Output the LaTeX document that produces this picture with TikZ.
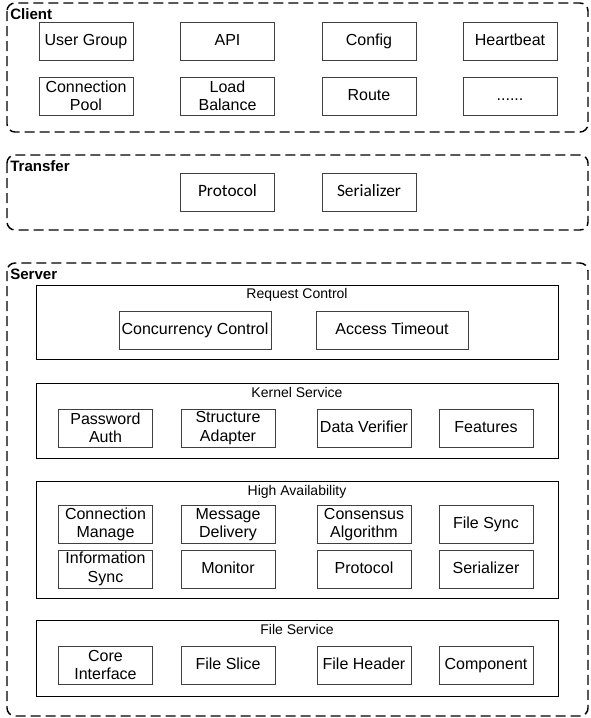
\documentclass[tikz,border=0pt]{standalone}
\usepackage{fontspec}
\setmainfont{Liberation Sans}
\newfontfamily\calibri{Carlito}
\usepackage{tikz}
\definecolor{boxgray}{RGB}{64,64,64}
\tikzset{
  layer/.style={draw=black, line width=1.1pt, dash pattern=on 7.5pt off 3.75pt, rounded corners=6pt},
  layertitle/.style={anchor=west, inner sep=0pt, text height=8.2pt, text depth=0pt,
    font=\fontsize{11.3}{13}\selectfont\bfseries},
  panel/.style={draw=black, line width=0.75pt},
  paneltitle/.style={inner sep=0pt, text height=7.6pt, text depth=2.2pt,
    font=\fontsize{10.5}{12.5}\selectfont},
  item/.style={draw=boxgray, line width=0.75pt, minimum width=70.5pt, minimum height=28.5pt,
    inner sep=0pt, align=center, font=\fontsize{12}{13.9}\selectfont},
  oneline/.style={item, text height=8.6pt, text depth=2.5pt},
  wideitem/.style={oneline, minimum width=114pt},
  titem/.style={oneline, text height=9pt, text depth=2.8pt, font=\calibri\fontsize{13}{15}\selectfont}
}
\begin{document}
\begin{tikzpicture}[x=0.75pt,y=0.75pt,yscale=-1,xscale=1]
\useasboundingbox (0,0) rectangle (590,718);

%Shape: Client layer
\draw[layer] (7,3) rectangle (588,132);
\node[layertitle] (client) at (10,14) {Client};
% Text Node
\node[oneline] (usergroup) at (86,41.5) {User Group};
\node[oneline] (api) at (227.5,41.5) {API};
\node[oneline] (config) at (369,41.5) {Config};
\node[oneline] (heartbeat) at (510,41.5) {Heartbeat};
\node[item] (connpool) at (86,96) {Connection\\Pool};
\node[item] (loadbal) at (227.5,96) {Load\\Balance};
\node[oneline] (route) at (369,96) {Route};
\node[oneline] (more) at (510,96) {......};

%Shape: Transfer layer
\draw[layer] (7,155) rectangle (588,230);
\node[layertitle] (transfer) at (10,166) {Transfer};
% Text Node
\node[titem] (tprotocol) at (227.5,192.5) {Protocol};
\node[titem] (tserializer) at (369,192.5) {Serializer};

%Shape: Server layer
\draw[layer] (7,263) rectangle (588,716);
\node[layertitle] (server) at (10,274) {Server};

%Shape: Request Control
\draw[panel] (36,285) rectangle (558,359);
\node[paneltitle] (reqctl) at (297,295) {Request Control};
\node[wideitem] (concurrency) at (195,330.5) {Concurrency Control};
\node[wideitem] (timeout) at (392,330.5) {Access Timeout};

%Shape: Kernel Service
\draw[panel] (36,383) rectangle (558,458);
\node[paneltitle] (kernel) at (297,394) {Kernel Service};
\node[item] (pwdauth) at (105.5,428) {Password\\Auth};
\node[item] (adapter) at (228,428) {Structure\\Adapter};
\node[oneline] (verifier) at (364,428) {Data Verifier};
\node[oneline] (features) at (486,428) {Features};

%Shape: High Availability
\draw[panel] (36,481) rectangle (558,598);
\node[paneltitle] (highavail) at (297,492) {High Availability};
\node[item] (connmanage) at (105.5,524.5) {Connection\\Manage};
\node[item] (msgdelivery) at (228,524.5) {Message\\Delivery};
\node[item] (consensus) at (364,524.5) {Consensus\\Algorithm};
\node[oneline] (filesync) at (486,524.5) {File Sync};
\node[item] (infosync) at (105.5,569) {Information\\Sync};
\node[oneline] (monitor) at (228,569) {Monitor};
\node[oneline] (haprotocol) at (364,569) {Protocol};
\node[oneline] (haserializer) at (486,569) {Serializer};

%Shape: File Service
\draw[panel] (36,620) rectangle (558,696);
\node[paneltitle] (filesvc) at (297,631) {File Service};
\node[item] (coreif) at (105.5,665) {Core\\Interface};
\node[oneline] (fileslice) at (228,665) {File Slice};
\node[oneline] (fileheader) at (364,665) {File Header};
\node[oneline] (component) at (486,665) {Component};

\end{tikzpicture}
\end{document}
